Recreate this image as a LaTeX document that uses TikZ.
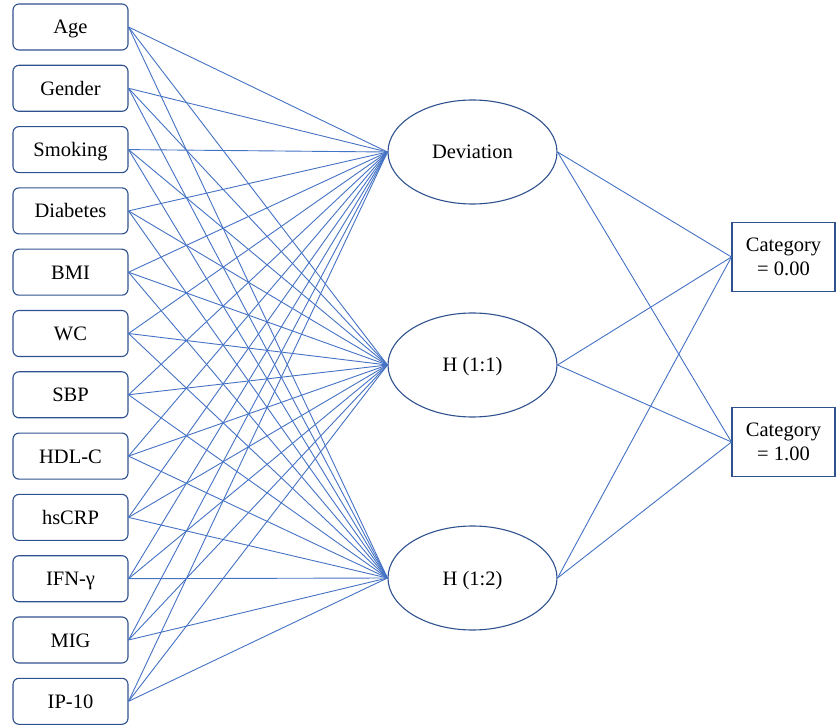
\documentclass[tikz,border=0pt]{standalone}
\usepackage{fontspec}
\setmainfont{Liberation Serif}
\usetikzlibrary{shapes.geometric}
\definecolor{lineblue}{HTML}{4472C4}
\definecolor{boxblue}{HTML}{2F528F}
\begin{document}
\begin{tikzpicture}[x=1pt,y=-1pt,
  inbox/.style={draw=boxblue,line width=1.1pt,rounded corners=6pt,minimum width=115pt,minimum height=46pt,inner sep=0pt,text height=14pt,text depth=0pt,font=\fontsize{20.5}{23}\selectfont},
  hid/.style={ellipse,draw=boxblue,line width=1.1pt,minimum width=169pt,minimum height=104pt,inner sep=0pt,text height=14pt,text depth=0pt,font=\fontsize{20.5}{23}\selectfont},
  outbox/.style={draw=boxblue,line width=1.1pt,minimum width=103pt,minimum height=69pt,inner sep=0pt,align=center,font=\fontsize{20.5}{24}\selectfont},
  conn/.style={draw=lineblue,line width=0.9pt}]
\useasboundingbox (0,0) rectangle (836,727);
\foreach \n/\t [count=\i from 0] in {a/Age,b/Gender,c/Smoking,d/Diabetes,e/BMI,f/WC,g/SBP,h/HDL-C,k/hsCRP,l/IFN-γ,m/MIG,p/IP-10}{
  \node[inbox] (\n) at (70.5,{27+61.3*\i}) {\t};
}
\node[hid] (dev) at (472.5,152) {Deviation};
\node[hid] (h1) at (472.5,365) {H (1:1)};
\node[hid] (h2) at (472.5,578) {H (1:2)};
\node[outbox] (c0) at (783.5,257) {Category\\= 0.00};
\node[outbox] (c1) at (783.5,442) {Category\\= 1.00};
\foreach \n in {a,b,c,d,e,f,g,h,k,l,m,p}{
  \foreach \e in {dev,h1,h2}{
    \draw[conn] (\n.east) -- (\e.west);
  }
}
\foreach \e in {dev,h1,h2}{
  \foreach \c in {c0,c1}{
    \draw[conn] (\e.east) -- (\c.west);
  }
}
\end{tikzpicture}
\end{document}
